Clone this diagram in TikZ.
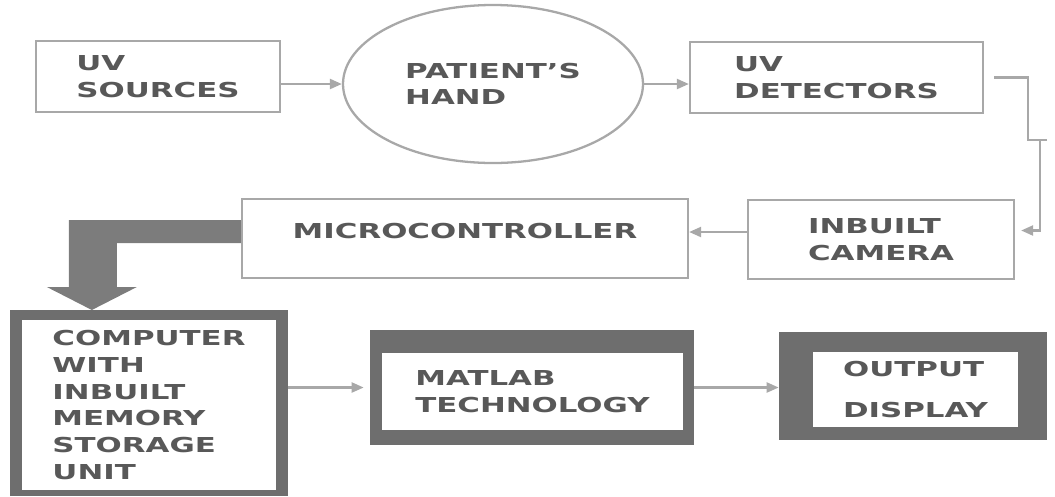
\documentclass[tikz,border=0pt]{standalone}
\usepackage{fontspec}
\usepackage{tikz}
\usetikzlibrary{positioning, arrows.meta, shapes.geometric}
\newfontfamily\diagfont{DejaVu Sans Bold}[FakeStretch=1.5]
\definecolor{boxgray}{RGB}{168,168,168}
\definecolor{framegray}{RGB}{110,110,110}
\definecolor{textgray}{RGB}{88,88,88}

\begin{document}
\begin{tikzpicture}[
                blk/.style={draw=boxgray, line width=1.3pt, fill=white,
                    inner sep=0pt, align=left, text=textgray,
                    font={\diagfont\fontsize{11.7}{15.2}\selectfont}},
                frame/.style={fill=framegray, inner sep=0pt},
                panel/.style={fill=white, inner sep=0pt, align=left,
                    text=textgray,
                    font={\diagfont\fontsize{11.7}{15.2}\selectfont}},
                wire/.style={draw=boxgray, line width=1.3pt},
                link/.style={wire, -{Triangle[length=0.24cm, width=0.2cm]}}
            ]
                \useasboundingbox (0, 0) rectangle (21.1, -9.92);

                % top row
                \node[blk, minimum width=4.88cm, minimum height=1.42cm]
                    (src) at (3.16, -1.53) {UV\\SOURCES};
                \node[blk, ellipse, minimum width=6.0cm, minimum height=3.16cm]
                    (hand) at (9.86, -1.68) {PATIENT’S\\HAND};
                \node[blk, minimum width=5.86cm, minimum height=1.42cm]
                    (det) at (16.73, -1.55) {UV\\DETECTORS};

                % middle row
                \node[blk, minimum width=5.32cm, minimum height=1.58cm]
                    (cam) at (17.62, -4.79) {INBUILT\\CAMERA};
                \node[blk, minimum width=8.92cm, minimum height=1.58cm,
                      text depth=0.3cm]
                    (mcu) at (9.30, -4.77) {MICROCONTROLLER};

                % bottom row
                \node[frame, minimum width=5.56cm, minimum height=3.72cm]
                    (comp) at (2.98, -8.06) {};
                \node[panel, minimum width=5.08cm, minimum height=3.40cm]
                    (comptxt) at (2.98, -8.10)
                    {COMPUTER\\WITH\\INBUILT\\MEMORY\\STORAGE\\UNIT};
                \node[frame, minimum width=6.48cm, minimum height=2.30cm]
                    (mat) at (10.64, -7.75) {};
                \node[panel, minimum width=6.02cm, minimum height=1.54cm]
                    (mattxt) at (10.65, -7.83) {MATLAB\\TECHNOLOGY};
                \node[frame, minimum width=5.36cm, minimum height=2.16cm]
                    (out) at (18.26, -7.72) {};
                \node[panel, minimum width=4.10cm, minimum height=1.50cm]
                    (outtxt) at (18.31, -7.79) {OUTPUT\\[8pt]DISPLAY};

                \coordinate (elbow) at (20.8, -2.8);

                \draw[link] (src.east |- hand.west) -- (hand.west);
                \draw[link] (hand.east) -- (hand.east -| det.west);
                \draw[wire] ([xshift=0.2cm]det.east) -| ([xshift=-0.24cm]elbow)
                    -- ([xshift=0.14cm]elbow);
                \draw[link] (elbow) |- ([xshift=0.12cm, yshift=0.18cm]cam.east);
                \draw[link] ([yshift=0.15cm]cam.west)
                    -- ([yshift=0.15cm]cam.west -| mcu.east);

                % thick bent arrow down to the computer
                \fill[framegray!90!white] ([yshift=0.37cm]mcu.west)
                    -- ++(-3.44, 0) -- ++(0, -1.34) -- ++(-0.44, 0)
                    -- ++(0.9, -0.46) -- ++(0.9, 0.46) -- ++(-0.4, 0)
                    -- ++(0, 0.88) -- ([yshift=-0.09cm]mcu.west) -- cycle;

                \draw[link] (comp.east |- mat.west) -- ([xshift=-0.12cm]mat.west);
                \draw[link] (mat.east) -- (mat.east -| out.west);

            \end{tikzpicture}
\end{document}
